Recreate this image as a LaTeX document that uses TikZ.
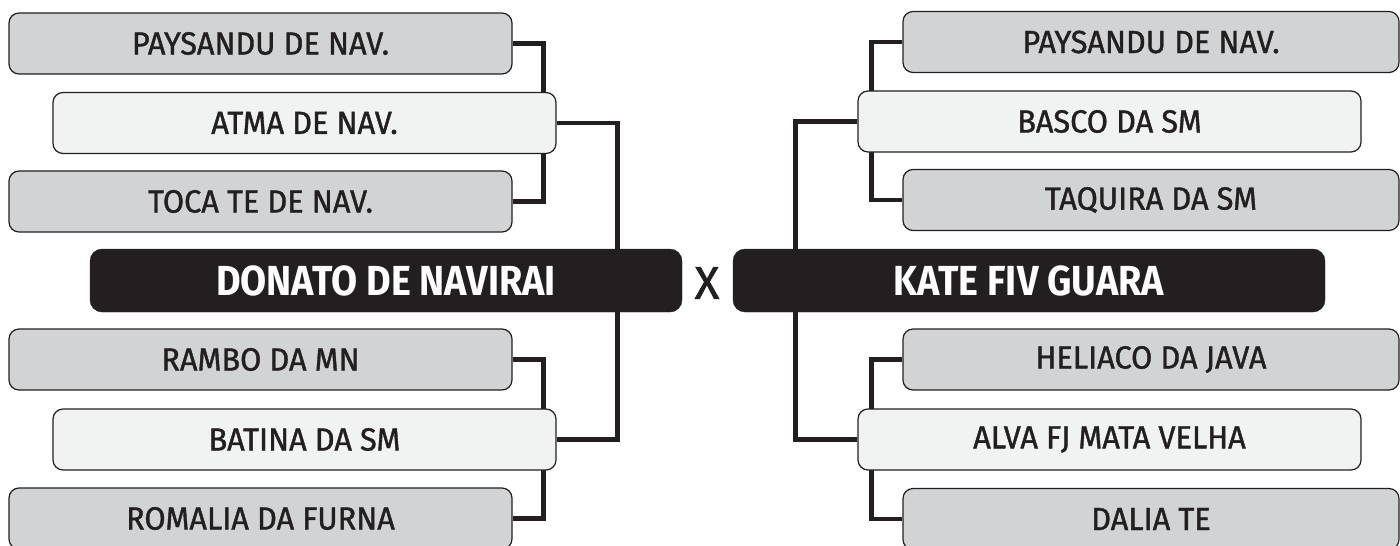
\documentclass[tikz,border=0pt]{standalone}
\usepackage{fontspec}
\setmainfont{Fira Sans}
\newfontfamily\teamfont{Fira Sans}[FakeStretch=0.96,FakeBold=1.2]
\newfontfamily\finalfont{Fira Sans}[FakeStretch=0.90]
\newfontfamily\vsfont{Fira Sans}[FakeStretch=1.0,FakeBold=1.2]
\definecolor{ink}{HTML}{231F20}
\definecolor{boxgray}{HTML}{D1D3D4}
\definecolor{boxlight}{HTML}{F1F2F2}
\pgfdeclarelayer{background}
\pgfsetlayers{background,main}
\tikzset{
  team/.style={draw=ink, line width=1.2pt, rounded corners=10pt, minimum height=61pt,
    inner sep=0pt, text=ink, font=\teamfont\fontsize{32}{36}\selectfont},
  grayteam/.style={team, fill=boxgray, minimum width=503pt},
  grayteamr/.style={team, fill=boxgray, minimum width=496pt},
  lightteam/.style={team, fill=boxlight, minimum width=503pt},
  finalist/.style={fill=ink, draw=ink, rounded corners=12pt, minimum width=592pt, minimum height=63pt,
    inner sep=0pt, text=white, font=\finalfont\bfseries\fontsize{42}{46}\selectfont},
  versus/.style={inner sep=0pt, text=ink, font=\vsfont\fontsize{46}{50}\selectfont},
  link/.style={draw=ink, line width=4.5pt}
}
\begin{document}
\begin{tikzpicture}[x=1pt,y=-1pt]
\useasboundingbox (0,0) rectangle (1400,546);
% left side
\node[grayteam]  (L1) at (260.5,43.5)  {PAYSANDU DE NAV.};
\node[lightteam] (L2) at (304.5,123)   {ATMA DE NAV.};
\node[grayteam]  (L3) at (260.5,201.5) {TOCA TE DE NAV.};
\node[finalist]  (LF) at (386,280.5)   {DONATO DE NAVIRAI};
\node[grayteam]  (L4) at (260.5,359.5) {RAMBO DA MN};
\node[lightteam] (L5) at (304.5,439.5) {BATINA DA SM};
\node[grayteam]  (L6) at (260.5,518.5) {ROMALIA DA FURNA};
% centre
\node[versus]    (VS) at (707,283)     {X};
% right side
\node[grayteamr] (R1) at (1151,42)     {PAYSANDU DE NAV.};
\node[lightteam] (R2) at (1109.5,121.5){BASCO DA SM};
\node[grayteamr] (R3) at (1151,200)    {TAQUIRA DA SM};
\node[finalist]  (RF) at (1029,280.5)  {KATE FIV GUARA};
\node[grayteamr] (R4) at (1151,359.5)  {HELIACO DA JAVA};
\node[lightteam] (R5) at (1109.5,439.5){ALVA FJ MATA VELHA};
\node[grayteamr] (R6) at (1151,519)    {DALIA TE};
\begin{pgfonlayer}{background}
\draw[link] (L1.east) -- ++(31,0) |- (L3.east);
\draw[link] (L4.east) -- ++(31,0) |- (L6.east);
\draw[link] (L2.east) -- ++(61,0) |- (L5.east);
\draw[link] (R1.west) -- ++(-31,0) |- (R3.west);
\draw[link] (R4.west) -- ++(-31,0) |- (R6.west);
\draw[link] (R2.west) -- ++(-62,0) |- (R5.west);
\end{pgfonlayer}
\end{tikzpicture}
\end{document}
